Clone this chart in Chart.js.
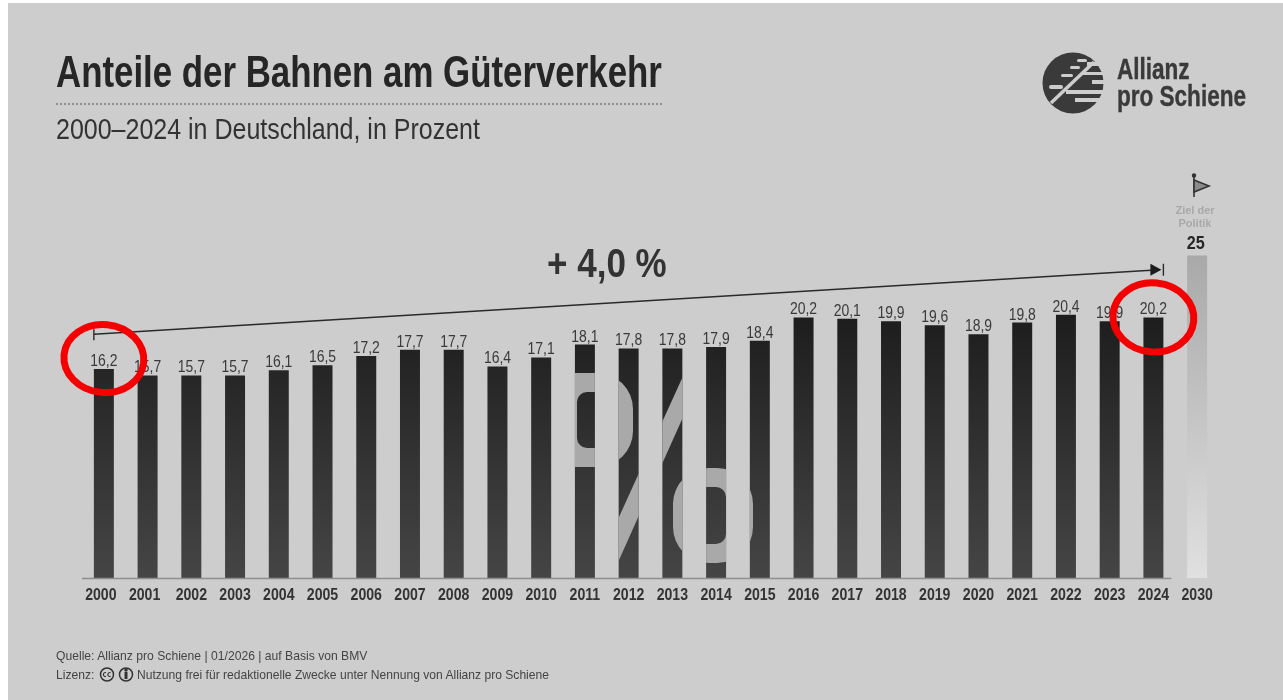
<!DOCTYPE html>
<html lang="de">
<head>
<meta charset="utf-8">
<title>Anteile der Bahnen am Güterverkehr</title>
<script src="https://cdn.jsdelivr.net/npm/chart.js@4/dist/chart.umd.min.js"></script>
<style>
    html, body { margin: 0; padding: 0; background: #fff; overflow: hidden; }
    #stage {
        position: relative; width: 1283px; height: 700px;
        font-family: "Liberation Sans", sans-serif;
        filter: blur(0.5px);
    }
    #panel { position: absolute; left: 8px; top: 3px; right: 0; bottom: 0; background: #cdcdcd; }
    #chart { position: absolute; left: 0; top: 0; }
    .txt { position: absolute; white-space: nowrap; color: #262626; transform-origin: left top; }
    #title { left: 56px; top: 47px; font-size: 45px; line-height: 50px; font-weight: bold; transform: scaleX(0.774); }
    #rule { position: absolute; left: 56px; top: 103px; width: 606px; border-top: 2px dotted #8f8f8f; }
    #subtitle { left: 56px; top: 112px; font-size: 29px; line-height: 34px; color: #333; transform: scaleX(0.862); }
    #logoText { left: 1117px; top: 56px; font-size: 29px; line-height: 27px; font-weight: bold; color: #3a3a3a; transform: scaleX(0.777); -webkit-text-stroke: 0.4px #3a3a3a; }
    #goal { left: 1165px; top: 204px; width: 60px; text-align: center; font-size: 11px; line-height: 13px; font-weight: bold; color: #a8a8a8; }
    #source { left: 56px; top: 648px; font-size: 13px; line-height: 15px; color: #444; transform: scaleX(0.934); }
    #licence1 { left: 56px; top: 667px; font-size: 13px; line-height: 15px; color: #444; transform: scaleX(0.934); }
    #licence2 { left: 137px; top: 667px; font-size: 13px; line-height: 15px; color: #444; transform: scaleX(0.93); }
    svg { position: absolute; overflow: visible; }
</style>
</head>
<body>
<div id="stage">
    <div id="panel"></div>
    <canvas id="chart" width="1283" height="700"></canvas>
    <div class="txt" id="title">Anteile der Bahnen am Güterverkehr</div>
    <div id="rule"></div>
    <div class="txt" id="subtitle">2000–2024 in Deutschland, in Prozent</div>

    <svg style="left:0;top:0" width="1283" height="700">
        <!-- Logo -->
        <circle cx="1073" cy="83" r="30.5" fill="#3a3a3a"/>
        <g fill="#cdcdcd">
            <rect x="1087" y="62" width="20" height="4"/>
            <rect x="1083" y="72" width="24" height="3"/>
            <rect x="1092" y="80" width="14" height="4"/>
            <rect x="1066" y="90" width="40" height="4"/>
            <rect x="1075" y="98" width="30" height="4"/>
            <rect x="1077" y="59" width="10" height="3" rx="1.5"/>
            <rect x="1070" y="66" width="10" height="3" rx="1.5"/>
            <rect x="1061" y="74" width="12" height="3" rx="1.5"/>
            <rect x="1049" y="85" width="14" height="4" rx="2"/>
        </g>
        <line x1="1051" y1="103" x2="1094" y2="62" stroke="#cdcdcd" stroke-width="3.5"/>
        <!-- Flag -->
        <g stroke="#333" fill="none" stroke-width="1.6">
            <line x1="1194" y1="176" x2="1194" y2="197"/>
            <path d="M1194 180 L1209 186 L1194 192 Z" fill="#8a8a8a"/>
            <circle cx="1194" cy="175.5" r="1.4" fill="#333"/>
        </g>
        <!-- CC-Zeichen -->
        <g stroke="#333" fill="none" stroke-width="1.5">
            <circle cx="107" cy="674.5" r="6.5"/>
            <circle cx="126" cy="674.5" r="6.5"/>
            <line x1="126" y1="672" x2="126" y2="679" stroke-width="3"/>
            <circle cx="126" cy="670" r="1" fill="#333"/>
            <path d="M106 672.6 a2 2 0 1 0 0 3.8 M110.5 672.6 a2 2 0 1 0 0 3.8" stroke-width="1.2"/>
        </g>
    </svg>

    <div class="txt" id="logoText">Allianz<br>pro Schiene</div>
    <div class="txt" id="goal">Ziel der<br>Politik</div>
    <div class="txt" id="source">Quelle: Allianz pro Schiene | 01/2026 | auf Basis von BMV</div>
    <div class="txt" id="licence1">Lizenz:</div>
    <div class="txt" id="licence2">Nutzung frei für redaktionelle Zwecke unter Nennung von Allianz pro Schiene</div>
</div>

<script>
// Data
const years = ['2000', '2001', '2002', '2003', '2004', '2005', '2006', '2007', '2008', '2009', '2010', '2011', '2012',
    '2013', '2014', '2015', '2016', '2017', '2018', '2019', '2020', '2021', '2022', '2023', '2024', '2030'];
const shares = [16.2, 15.7, 15.7, 15.7, 16.1, 16.5, 17.2, 17.7, 17.7, 16.4, 17.1, 18.1, 17.8,
    17.8, 17.9, 18.4, 20.2, 20.1, 19.9, 19.6, 18.9, 19.8, 20.4, 19.9, 20.2, 25];
const percentYears = ['2011', '2012', '2013', '2014', '2015'];
const trendFrom = 18.9;   // left end of the arrow, on the value scale
const trendTo = 23.9;     // right end of the arrow
const trendLabel = '+ 4,0 %';
const goalYear = '2030';
const lastYear = '2024';

const fontName = '"Liberation Sans", sans-serif';

// No narrow font is installed, so squeeze the text horizontally
function narrowText(c, text, x, y, squeeze) {
    c.save();
    c.translate(x, y);
    c.scale(squeeze, 1);
    c.fillText(text, 0, 0);
    c.restore();
}

// Bars: dark gradient for the actual years, pale one for the 2030 goal
function barGradient(ctx) {
    const chart = ctx.chart;
    const area = chart.chartArea;
    if (!area) return '#222';
    const g = chart.ctx.createLinearGradient(0, chart.scales.y.getPixelForValue(25), 0, area.bottom);
    if (years[ctx.dataIndex] === goalYear) {
        g.addColorStop(0, '#a9a9a9');
        g.addColorStop(1, '#e0e0e0');
    } else {
        g.addColorStop(0, '#141414');
        g.addColorStop(1, '#454545');
    }
    return g;
}

// Big % sign, only visible inside the bars it crosses
const percentPlugin = {
    id: 'percentSign',
    afterDatasetsDraw(chart) {
        const c = chart.ctx;
        const bars = chart.getDatasetMeta(0).data;
        c.save();
        c.beginPath();
        percentYears.forEach((year) => {
            const b = bars[years.indexOf(year)];
            c.rect(b.x - b.width / 2, b.y, b.width, b.base - b.y);
        });
        c.clip();
        c.fillStyle = '#a9a9a9';
        // upper ring
        c.beginPath();
        c.roundRect(540, 373, 93, 94, 36);
        c.roundRect(577, 392, 40, 56, 10);
        c.fill('evenodd');
        // lower ring
        c.beginPath();
        c.roundRect(673, 468, 80, 95, 36);
        c.roundRect(686, 487, 40, 57, 10);
        c.fill('evenodd');
        // slash
        c.beginPath();
        c.moveTo(684, 374);
        c.lineTo(684, 415);
        c.lineTo(619, 560);
        c.lineTo(619, 517);
        c.closePath();
        c.fill();
        c.restore();
    }
};

// Year labels, value labels, baseline, trend arrow and the red rings
const overlayPlugin = {
    id: 'overlay',
    afterDraw(chart) {
        const c = chart.ctx;
        const xs = chart.scales.x;
        const ys = chart.scales.y;
        const area = chart.chartArea;
        const bars = chart.getDatasetMeta(0).data;
        const first = bars[0];
        const last = bars[years.indexOf(lastYear)];

        c.save();

        // Baseline stops just after the last real year
        c.strokeStyle = '#8e8e8e';
        c.lineWidth = 1.5;
        c.beginPath();
        c.moveTo(area.left, area.bottom + 0.5);
        c.lineTo(last.x + last.width / 2 + 8, area.bottom + 0.5);
        c.stroke();

        c.textAlign = 'center';
        c.textBaseline = 'alphabetic';

        // Year labels, the first two sit a little left of their bars
        c.font = 'bold 17px ' + fontName;
        c.fillStyle = '#333';
        years.forEach((year, i) => narrowText(c, year, xs.getPixelForTick(i) + (i < 2 ? -3 : 0), area.bottom + 22, 0.83));

        // Value labels
        bars.forEach((b, i) => {
            if (years[i] === goalYear) {
                c.font = 'bold 18px ' + fontName;
                c.fillStyle = '#262626';
                narrowText(c, String(shares[i]), b.x - 1.5, b.y - 7, 0.9);
            } else {
                c.font = '17px ' + fontName;
                c.fillStyle = '#3a3a3a';
                narrowText(c, shares[i].toFixed(1).replace('.', ','), b.x, b.y - 3, 0.82);
            }
        });

        // Arrow
        const x0 = first.x - first.width / 2;
        const x1 = last.x + last.width / 2;
        const y0 = ys.getPixelForValue(trendFrom);
        const y1 = ys.getPixelForValue(trendTo);
        c.strokeStyle = '#2a2a2a';
        c.fillStyle = '#1c1c1c';
        c.lineWidth = 1.4;
        c.beginPath();
        c.moveTo(x0, y0 - 5);
        c.lineTo(x0, y0 + 6);
        c.moveTo(x0, y0);
        c.lineTo(x1 - 4, y1);
        c.moveTo(x1, y1 - 6);
        c.lineTo(x1, y1 + 6);
        c.stroke();
        c.beginPath();
        c.moveTo(x1 - 2, y1);
        c.lineTo(x1 - 13, y1 - 6);
        c.lineTo(x1 - 13, y1 + 6);
        c.closePath();
        c.fill();

        c.font = 'bold 40px ' + fontName;
        c.fillStyle = '#333';
        narrowText(c, trendLabel, xs.getPixelForValue('2011') + 22, 277, 0.875);

        // Red rings
        c.strokeStyle = '#f50000';
        c.lineWidth = 7;
        c.beginPath();
        c.ellipse(first.x, first.y - 10.5, 40, 34, 0.1, 0, Math.PI * 2);
        c.stroke();
        c.beginPath();
        c.ellipse(last.x, last.y, 40.5, 34.5, 0.1, 0, Math.PI * 2);
        c.stroke();

        c.restore();
    }
};

new Chart(document.getElementById('chart'), {
    type: 'bar',
    data: {
        labels: years,
        datasets: [{
            data: shares,
            backgroundColor: barGradient,
            barPercentage: 0.457,
            categoryPercentage: 1
        }]
    },
    options: {
        responsive: false,
        animation: false,
        layout: { padding: { left: 82, right: 64, top: 191, bottom: 0 } },
        plugins: { legend: { display: false }, tooltip: { enabled: false } },
        scales: {
            x: {
                grid: { display: false, drawTicks: false },
                border: { display: false },
                ticks: { display: false, autoSkip: false },
                afterFit(scale) { scale.height = 122; }
            },
            y: { display: false, min: 0, max: 30 }
        }
    },
    plugins: [percentPlugin, overlayPlugin]
});
</script>
</body>
</html>
